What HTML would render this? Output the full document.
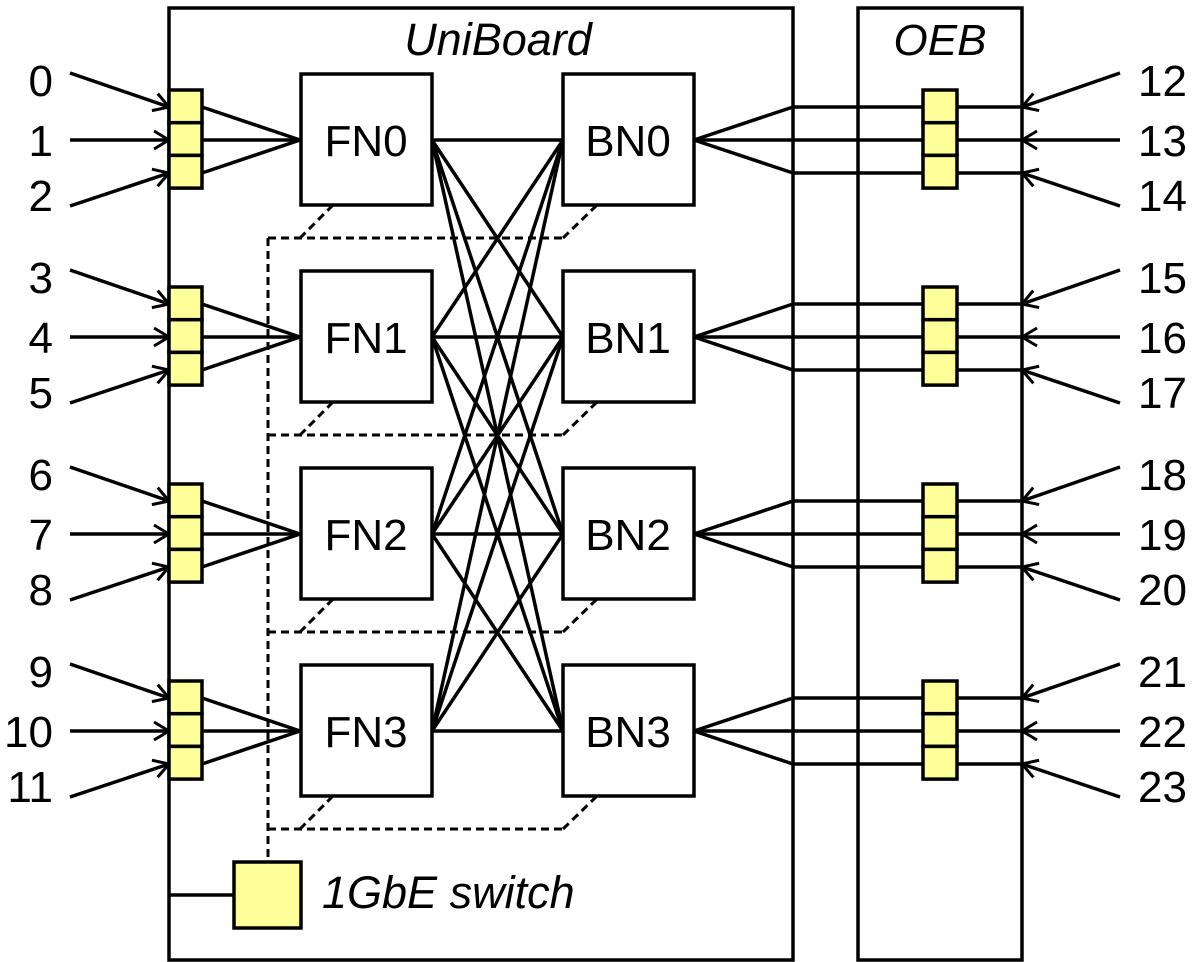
<!DOCTYPE html>
<html><head><style>html,body{margin:0;padding:0;background:#fff;}svg{display:block;}</style></head>
<body>
<svg width="1200" height="962" viewBox="0 0 1200 962" xmlns="http://www.w3.org/2000/svg" font-family="Liberation Sans, Arial, sans-serif">
<defs>
<marker id="a" viewBox="0 0 22 22" refX="20" refY="11" markerWidth="22" markerHeight="22" markerUnits="userSpaceOnUse" orient="auto">
<path d="M5 2 L20 11 L5 20" fill="none" stroke="#000" stroke-width="3"/>
</marker>
</defs>
<g fill="none" stroke="#000" stroke-width="3.5">
<rect x="169" y="8" width="624" height="952"/>
<rect x="858" y="8" width="164" height="952"/>
</g>
<text x="498" y="55" font-size="45" font-style="italic" text-anchor="middle">UniBoard</text>
<text x="940" y="55" font-size="44" font-style="italic" text-anchor="middle">OEB</text>
<g id="all" stroke="#000" stroke-width="3.5" fill="none">
</g>
<script>
(function(){
var ns="http://www.w3.org/2000/svg",svg=document.querySelector('svg'),g=document.getElementById('all');
function el(t,a,p){var e=document.createElementNS(ns,t);for(var k in a)e.setAttribute(k,a[k]);(p||g).appendChild(e);return e;}
function L(x1,y1,x2,y2,extra){var a={x1:x1,y1:y1,x2:x2,y2:y2};for(var k in extra)a[k]=extra[k];return el('line',a);}
function T(x,y,s,anchor){var t=el('text',{x:x,y:y,'font-size':44,'text-anchor':anchor||'middle',stroke:'none',fill:'#000'},svg);t.textContent=s;}
var dash={'stroke-dasharray':'8 5','stroke-width':3};
for(var i=0;i<4;i++){
 var o=197*i,c=140+o;
 var ys=[107+o,140+o,173+o],starts=[73+o,140+o,206+o];
 for(var k=0;k<3;k++){
   L(70,starts[k],169,ys[k],{'marker-end':'url(#a)'});
   L(202,ys[k],300,c);
   T(53,[80,140,195][k]+o+16,String(i*3+k),'end');
   L(1120,starts[k],1022,ys[k],{'marker-end':'url(#a)'});
   L(694,c,793,ys[k]);
   L(793,ys[k],1022,ys[k]);
   T(1138,[80,140,195][k]+o+16,String(12+i*3+k),'start');
 }
 for(var k=0;k<3;k++){
   el('rect',{x:169,y:90+o+k*32.7,width:33,height:32.7,fill:'#ffff99'});
   el('rect',{x:923,y:90+o+k*32.7,width:34,height:32.7,fill:'#ffff99'});
 }
 el('rect',{x:301,y:74+o,width:131,height:131,fill:'#fff'});
 el('rect',{x:563,y:74+o,width:131,height:131,fill:'#fff'});
 T(366,c+16,'FN'+i);T(628,c+16,'BN'+i);
 L(333,205+o,300,238+o,dash);
 L(268,238+o,563,238+o,dash);
 L(563,238+o,597,205+o,dash);
 for(var j=0;j<4;j++)L(432,c,563,140+197*j);
}
L(268,238,268,862,dash);
L(169,895,234,895);
el('rect',{x:234,y:862,width:67,height:66,fill:'#ffff99'});
var t=el('text',{x:322,y:908,'font-size':45,'font-style':'italic',stroke:'none',fill:'#000'},svg);t.textContent='1GbE switch';
})();
</script>
</svg>
</body></html>
